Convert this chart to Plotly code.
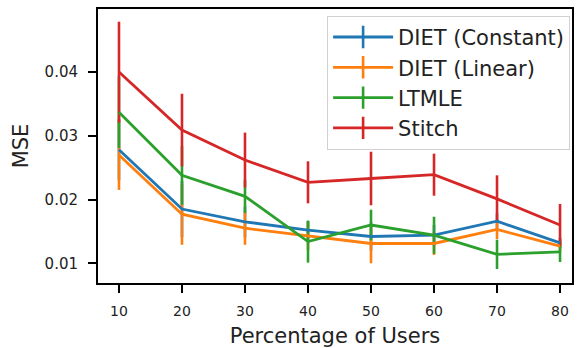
import plotly.graph_objects as go

x_pct = [10, 20, 30, 40, 50, 60, 70, 80]

names = ["DIET (Constant)", "DIET (Linear)", "LTMLE", "Stitch"]
colors = ["#1f77b4", "#ff7f0e", "#2ca02c", "#d62728"]

diet_const = [0.0278, 0.0185, 0.0165, 0.0152, 0.0142, 0.0144, 0.0166, 0.0132]
diet_const_err = [0.0048, 0.0044, 0.0024, 0.0014, 0.0022, 0.0016, 0.0012, 0.0008]

diet_lin = [0.0270, 0.0177, 0.0155, 0.0143, 0.0131, 0.0131, 0.0153, 0.0127]
diet_lin_err = [0.0055, 0.0048, 0.0026, 0.0022, 0.0031, 0.0018, 0.0015, 0.0010]

ltmle = [0.0337, 0.0238, 0.0205, 0.0134, 0.0160, 0.0144, 0.0114, 0.0118]
ltmle_err = [0.0056, 0.0046, 0.0026, 0.0033, 0.0024, 0.0029, 0.0023, 0.0016]

stitch = [0.0400, 0.0309, 0.0262, 0.0227, 0.0233, 0.0239, 0.0201, 0.0160]
stitch_err = [0.0079, 0.0057, 0.0043, 0.0033, 0.0042, 0.0033, 0.0037, 0.0033]

y_ticks = [0.01, 0.02, 0.03, 0.04]
x_ticks = [10, 20, 30, 40, 50, 60, 70, 80]

series = [diet_const, diet_lin, ltmle, stitch]
errors = [diet_const_err, diet_lin_err, ltmle_err, stitch_err]

TXT = "#222222"
FONT = "DejaVu Sans"

fig = go.Figure()

# error bars first (below all lines, as in matplotlib)
for vals, errs, c in zip(series, errors, colors):
    fig.add_trace(go.Scatter(
        x=x_pct, y=vals, mode="markers",
        marker=dict(color="rgba(0,0,0,0)", size=1),
        error_y=dict(type="data", array=errs, width=0, thickness=2.6, color=c),
        showlegend=False, hoverinfo="skip"))

# lines
for vals, c, n in zip(series, colors, names):
    fig.add_trace(go.Scatter(
        x=x_pct, y=vals, mode="lines",
        line=dict(color=c, width=2.8),
        name=n, showlegend=False))

# legend entries (line with vertical error tick)
for c, n in zip(colors, names):
    fig.add_trace(go.Scatter(
        x=[None], y=[None], mode="lines+markers",
        line=dict(color=c, width=2.8),
        marker=dict(symbol="line-ns", size=18, line=dict(color=c, width=2.6)),
        name=n, showlegend=True))

fig.update_layout(
    width=580, height=348,
    margin=dict(l=98, r=8, t=9, b=65, autoexpand=False),
    paper_bgcolor="white", plot_bgcolor="white",
    font=dict(family=FONT, color=TXT),
    legend=dict(
        x=0.996, y=0.975, xanchor="right", yanchor="top",
        bgcolor="rgba(255,255,255,0.85)",
        bordercolor="#d0d0d0", borderwidth=1,
        font=dict(size=21, family=FONT, color=TXT),
        itemwidth=60, tracegroupgap=0,
    ),
    showlegend=True,
)

fig.update_xaxes(
    automargin=False,
    range=[6.67, 81.9],
    tickvals=x_ticks, ticktext=[str(v) for v in x_ticks],
    ticks="outside", ticklen=8, tickwidth=2, tickcolor="black",
    showline=True, linecolor="black", linewidth=2, mirror=True,
    showgrid=False, zeroline=False,
    tickfont=dict(size=14, family=FONT, color=TXT),
    ticklabelstandoff=6,
    title=dict(text="Percentage of Users", font=dict(size=21, family=FONT, color=TXT), standoff=19),
)

fig.update_yaxes(
    automargin=False,
    range=[0.0069, 0.0499],
    tickvals=y_ticks, ticktext=[f"{v:.2f}" for v in y_ticks],
    ticks="outside", ticklen=8, tickwidth=2, tickcolor="black",
    showline=True, linecolor="black", linewidth=2, mirror=True,
    showgrid=False, zeroline=False,
    tickfont=dict(size=15, family=FONT, color=TXT),
    ticklabelstandoff=7,
    title=dict(text="MSE", font=dict(size=21, family=FONT, color=TXT), standoff=10),
)

fig.write_html("out.html")
